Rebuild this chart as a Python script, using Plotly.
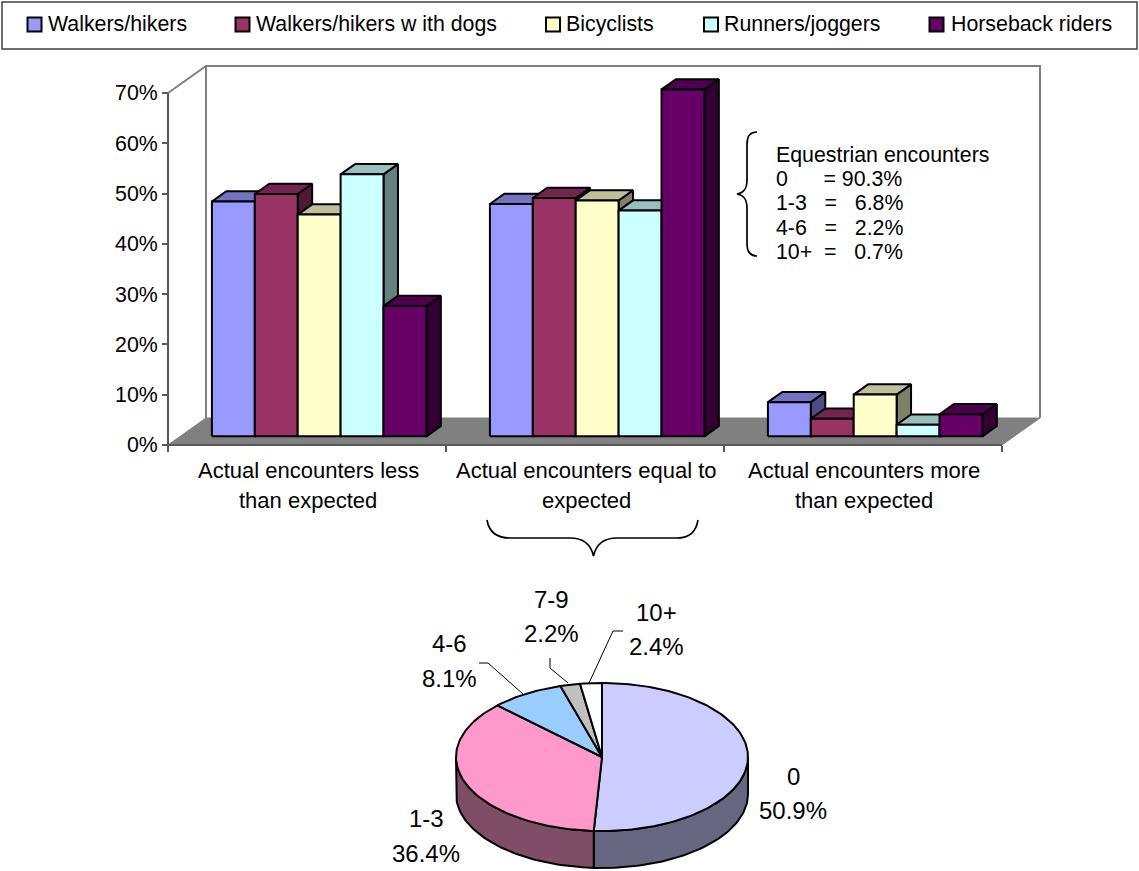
import math
import plotly.graph_objects as go

# ---- survey results -------------------------------------------------------
categories = ["Actual encounters less<br>than expected",
              "Actual encounters equal to<br>expected",
              "Actual encounters more<br>than expected"]
series_names = ["Walkers/hikers", "Walkers/hikers w ith dogs", "Bicyclists",
                "Runners/joggers", "Horseback riders"]
walkers = [46.7, 46.2, 6.8]
walkers_dogs = [48.2, 47.4, 3.5]
bicyclists = [44.1, 46.9, 8.3]
runners = [52.1, 44.9, 2.3]
horseback = [25.9, 69.0, 4.4]
y_ticks = [0, 10, 20, 30, 40, 50, 60, 70]

pie_labels = ["0", "1-3", "4-6", "7-9", "10+"]
pie_values = [50.9, 36.4, 8.1, 2.2, 2.4]

equestrian_lines = ["Equestrian encounters",
                    "0\u00a0\u00a0\u00a0\u00a0\u00a0\u00a0=\u00a090.3%",
                    "1-3\u00a0\u00a0\u00a0=\u00a0\u00a0\u00a06.8%",
                    "4-6\u00a0\u00a0\u00a0=\u00a0\u00a0\u00a02.2%",
                    "10+\u00a0\u00a0=\u00a0\u00a0\u00a00.7%"]

# ---- palette ---------------------------------------------------------------
front_colors = ["#9999FF", "#993366", "#FFFFCC", "#CCFFFF", "#660066"]
top_colors = ["#7373BF", "#73264D", "#BFBF99", "#99BFBF", "#4D004D"]
side_colors = ["#4D4D80", "#4D1A33", "#808066", "#668080", "#330033"]
pie_top_colors = ["#CCCCFF", "#FF99CC", "#99CCFF", "#C0C0C0", "#FFFFFF"]
pie_side_colors = ["#666680", "#804D66", "#4D6680", "#606060", "#808080"]

FONT = "Liberation Sans, Arial, sans-serif"
W, H = 1139, 871

# ---- chart frame in page pixels ---------------------------------------------
LEFT, RIGHT, BASE, TOP = 168, 1002, 445, 93
PX_X = (RIGHT - LEFT) / 3          # pixels per category
PX_Y = (BASE - TOP) / 70           # pixels per percentage point
DEPTH_X = 38 / PX_X                # floor depth along x, category units
DEPTH_Y = 27 / PX_Y                # floor depth along y, percentage points
BAR_W = 42.9 / PX_X
GAP = (1 - 5 * BAR_W) / 2
BAR_NEAR, BAR_FAR = 0.32, 0.70     # bar extent across the floor depth

fig = go.Figure()


def depth_point(x, y, d):
    """Project a point at floor depth d (0 front, 1 back) onto the axes."""
    return x + d * DEPTH_X, y + d * DEPTH_Y


def polygon(points, fill, line_color="#000000", width=2):
    xs = [p[0] for p in points] + [points[0][0]]
    ys = [p[1] for p in points] + [points[0][1]]
    fig.add_trace(go.Scatter(x=xs, y=ys, mode="lines", fill="toself", fillcolor=fill,
                             line=dict(color=line_color, width=width),
                             showlegend=False, hoverinfo="skip"))


def polyline(points, color, width):
    fig.add_trace(go.Scatter(x=[p[0] for p in points], y=[p[1] for p in points], mode="lines",
                             line=dict(color=color, width=width),
                             showlegend=False, hoverinfo="skip"))


# floor, back wall and the two axis lines
polygon([depth_point(0, 0, 0), depth_point(0, 0, 1), depth_point(3, 0, 1), depth_point(3, 0, 0)],
        "#808080", "#808080", 1)
polyline([depth_point(0, 70, 0), depth_point(0, 70, 1), depth_point(3, 70, 1), depth_point(3, 0, 1)],
         "#808080", 2)
polyline([depth_point(0, 70, 1), depth_point(0, 0, 1)], "#808080", 2)
polyline([(0, 70), (0, 0), (3, 0)], "#595959", 2)

# 3-D columns, painted left to right so later bars cover earlier ones
all_series = [walkers, walkers_dogs, bicyclists, runners, horseback]
for c in range(len(categories)):
    for s, values in enumerate(all_series):
        v = values[c]
        x0 = c + GAP + s * BAR_W
        x1 = x0 + BAR_W
        polygon([depth_point(x1, 0, BAR_NEAR), depth_point(x1, 0, BAR_FAR),
                 depth_point(x1, v, BAR_FAR), depth_point(x1, v, BAR_NEAR)], side_colors[s])
        polygon([depth_point(x0, v, BAR_NEAR), depth_point(x0, v, BAR_FAR),
                 depth_point(x1, v, BAR_FAR), depth_point(x1, v, BAR_NEAR)], top_colors[s])
        polygon([depth_point(x0, 0, BAR_NEAR), depth_point(x0, v, BAR_NEAR),
                 depth_point(x1, v, BAR_NEAR), depth_point(x1, 0, BAR_NEAR)], front_colors[s])

# ---- extruded pie, in page pixels --------------------------------------------
CX, CY, RX, RY, THICK = 602, 757, 146, 74, 37


def rim(angle_deg, drop=0):
    a = math.radians(angle_deg)
    return CX + RX * math.sin(a), CY - RY * math.cos(a) + drop


def pie_polygon(points, fill, width=2):
    xs = [p[0] for p in points] + [points[0][0]]
    ys = [p[1] for p in points] + [points[0][1]]
    fig.add_trace(go.Scatter(x=xs, y=ys, xaxis="x3", yaxis="y3", mode="lines", fill="toself",
                             fillcolor=fill, line=dict(color="#000000", width=width),
                             showlegend=False, hoverinfo="skip"))


total = sum(pie_values)
edges = [0.0]
for v in pie_values:
    edges.append(edges[-1] + v / total * 360)

# outer wall: only the near half of the rim is visible
for i in range(len(pie_values)):
    a0, a1 = max(edges[i], 90), min(edges[i + 1], 270)
    if a1 <= a0:
        continue
    steps = [a0 + (a1 - a0) * k / 60 for k in range(61)]
    pie_polygon([rim(a) for a in steps] + [rim(a, THICK) for a in reversed(steps)], pie_side_colors[i])

# top face
for i in range(len(pie_values)):
    a0, a1 = edges[i], edges[i + 1]
    n = max(3, int((a1 - a0) / 1.5))
    steps = [a0 + (a1 - a0) * k / n for k in range(n + 1)]
    pie_polygon([(CX, CY)] + [rim(a) for a in steps], pie_top_colors[i])

# leader lines for the small slices
leaders = [([479, 488, 523], [663, 663, 694]),
           ([550, 550, 568], [658, 668, 683]),
           ([623, 613, 589], [631, 631, 683])]
for lx, ly in leaders:
    fig.add_trace(go.Scatter(x=lx, y=ly, xaxis="x3", yaxis="y3", mode="lines",
                             line=dict(color="#000000", width=1),
                             showlegend=False, hoverinfo="skip"))

# ---- text labels ---------------------------------------------------------------
annotations = []


def page_text(x, y, text, size=21.33, anchor="center"):
    annotations.append(dict(x=x, y=y, xref="x3", yref="y3", text=text, showarrow=False,
                            xanchor=anchor, yanchor="middle",
                            font=dict(family=FONT, size=size, color="#000000")))


# legend row: swatches plus series names
swatch_x = [34.5, 242.5, 553, 711, 936.5]
name_x = [46, 254, 564, 722, 949]
fig.add_trace(go.Scatter(x=swatch_x, y=[24.5] * 5, xaxis="x3", yaxis="y3", mode="markers",
                         marker=dict(symbol="square", size=14, color=front_colors,
                                     line=dict(color="#000000", width=2)),
                         showlegend=False, hoverinfo="skip"))
for name, x in zip(series_names, name_x):
    page_text(x, 23.5, name, anchor="left")

# category captions, one line at a time under the axis
for c, caption in enumerate(categories):
    for line, y in zip(caption.split("<br>"), [470.5, 500.5]):
        page_text(LEFT + (c + 0.5) * PX_X + 1, y, line, size=22)

for line, y in zip(equestrian_lines, [155, 179, 203, 228, 252]):
    page_text(774, y, line, anchor="left")

label_spots = [(793, 776, 810), (426, 818, 853), (449, 643, 678), (551, 599, 633), (656, 612, 646)]
for label, value, (x, y1, y2) in zip(pie_labels, pie_values, label_spots):
    page_text(x, y1, label, size=24)
    page_text(x, y2, f"{value:.1f}%", size=24)

# ---- braces and legend frame -----------------------------------------------------
shapes = [
    dict(type="rect", xref="x3", yref="y3", x0=2, x1=1137, y0=2, y1=49,
         line=dict(color="#404040", width=1.5), fillcolor="rgba(0,0,0,0)", layer="below"),
    dict(type="path", xref="x3", yref="y3", line=dict(color="#000000", width=1.7),
         path="M 757 132 C 751 132 747 136 747 144 L 747 180 C 747 190 743 193 737 194 "
              "C 743 195 747 198 747 208 L 747 244 C 747 252 751 256 757 256"),
    dict(type="path", xref="x3", yref="y3", line=dict(color="#000000", width=1.7),
         path="M 487 520 C 489 532 497 538 510 538 L 570 538 C 584 538 591 545 593.5 556 "
              "C 596 545 603 538 617 538 L 677 538 C 690 538 696 532 698 520"),
]

fig.update_layout(
    width=W, height=H, margin=dict(l=0, r=0, t=0, b=0), autosize=False,
    paper_bgcolor="#FFFFFF", plot_bgcolor="rgba(0,0,0,0)",
    font=dict(family=FONT, size=21.33, color="#000000"),
    hovermode=False, showlegend=False, annotations=annotations, shapes=shapes,
    # the value axes span the whole page so the depth offsets never leave their range
    xaxis=dict(domain=[0, 1], range=[-LEFT / PX_X, (W - LEFT) / PX_X], tickmode="array",
               tickvals=[0, 1, 2, 3], ticktext=["", "", "", ""], ticks="outside", ticklen=6,
               tickwidth=1.5, tickcolor="#595959", showline=False, showgrid=False,
               zeroline=False, anchor="free", position=(H - BASE) / H),
    yaxis=dict(domain=[0, 1], range=[-(H - BASE) / PX_Y, BASE / PX_Y], tickmode="array",
               tickvals=y_ticks, ticktext=[f"{t}%" for t in y_ticks], ticks="outside",
               ticklen=6, tickwidth=1.5, tickcolor="#595959", showline=False, showgrid=False,
               zeroline=False, anchor="free", position=LEFT / W,
               tickfont=dict(family=FONT, size=21.33, color="#000000")),
    xaxis3=dict(domain=[0, 1], range=[0, W], visible=False, anchor="y3"),
    yaxis3=dict(domain=[0, 1], range=[H, 0], visible=False, anchor="x3"),
)

fig.write_html("out.html", config={"displayModeBar": False})
